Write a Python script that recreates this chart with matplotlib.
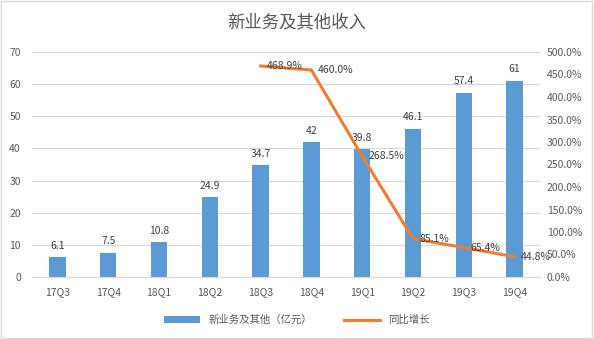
import matplotlib.pyplot as plt
import numpy as np

plt.rcParams['font.family'] = ['Noto Sans CJK SC', 'DejaVu Sans']

quarters = ['17Q3', '17Q4', '18Q1', '18Q2', '18Q3', '18Q4', '19Q1', '19Q2', '19Q3', '19Q4']
revenue = [6.1, 7.5, 10.8, 24.9, 34.7, 42, 39.8, 46.1, 57.4, 61]
growth = [None, None, None, None, 468.9, 460.0, 268.5, 85.1, 65.4, 44.8]

bar_c = '#5B9BD5'
line_c = '#ED7D31'
txt_c = '#595959'

fig = plt.figure(figsize=(5.94, 3.39), dpi=100)
ax = fig.add_axes([32/594, 1 - 277/339, (540-32)/594, (277-52)/339])
ax2 = ax.twinx()

x = np.arange(len(quarters))
bars = ax.bar(x, revenue, width=0.32, color=bar_c, label='新业务及其他（亿元）', zorder=2)
for xi, v in zip(x, revenue):
    ax.text(xi, v + 2, f'{v:g}', ha='center', va='bottom', fontsize=7.5, color='#404040')

gx = [xi for xi, g in zip(x, growth) if g is not None]
gy = [g for g in growth if g is not None]
ln, = ax2.plot(gx, gy, color=line_c, lw=2.2, label='同比增长', zorder=3)
for xi, g in zip(gx, gy):
    ax2.text(xi + 0.12, g, f'{g:.1f}%', ha='left', va='center', fontsize=7.5, color='#404040')

ax.set_xlim(-0.5, len(quarters) - 0.5)
ax.set_ylim(0, 70)
ax.set_yticks(range(0, 71, 10))
ax2.set_ylim(0, 500)
ax2.set_yticks(range(0, 501, 50))
ax2.set_yticklabels([f'{t:.1f}%' for t in range(0, 501, 50)])
ax.set_xticks(x)
ax.set_xticklabels(quarters)
ax.grid(axis='y', color='#D9D9D9', lw=0.8, zorder=0)
ax.set_axisbelow(True)

for a in (ax, ax2):
    for s in a.spines.values():
        s.set_visible(False)
    a.tick_params(length=0, labelsize=7.5, colors=txt_c)
ax.spines['bottom'].set_visible(True)
ax.spines['bottom'].set_color('#D9D9D9')
ax.tick_params(axis='x', pad=7)
ax.tick_params(axis='y', pad=8)
ax2.tick_params(axis='y', pad=5)

fig.suptitle('新业务及其他收入', y=0.96, fontsize=12.5, color=txt_c)
fig.legend(handles=[bars, ln], loc='center', bbox_to_anchor=(0.5, 1 - 320/339),
           ncol=2, frameon=False, fontsize=7.5, labelcolor=txt_c, handlelength=3.5, columnspacing=3)

fig.patches.append(plt.Rectangle((0.002, 0.003), 0.995, 0.994, transform=fig.transFigure,
                                 fill=False, edgecolor='#D9D9D9', lw=1))
fig.savefig('out.png', dpi=100)
